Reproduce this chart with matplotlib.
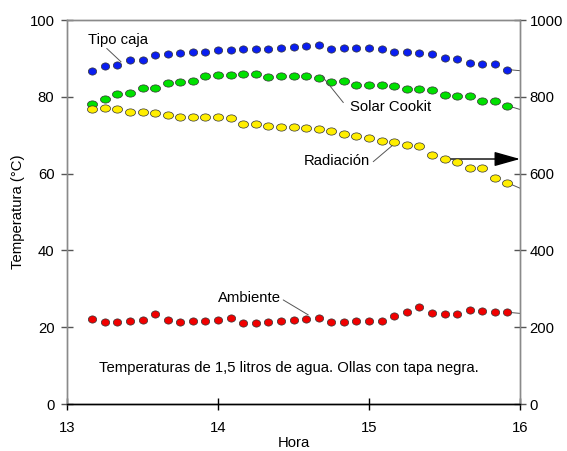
import matplotlib
matplotlib.use("Agg")
import matplotlib.pyplot as plt
from matplotlib.markers import MarkerStyle
from matplotlib.transforms import Affine2D

plt.rcParams['font.family'] = ['Liberation Sans', 'DejaVu Sans']
FS = 10.7
plt.rcParams['font.size'] = FS

# ---- data ----
horas = ["13:10", "13:15", "13:20", "13:25", "13:30", "13:35", "13:40", "13:45", "13:50", "13:55",
         "14:00", "14:05", "14:10", "14:15", "14:20", "14:25", "14:30", "14:35", "14:40", "14:45",
         "14:50", "14:55", "15:00", "15:05", "15:10", "15:15", "15:20", "15:25", "15:30", "15:35",
         "15:40", "15:45", "15:50", "15:55"]

tipo_caja = [86.6, 88.0, 88.2, 89.5, 89.7, 91.0, 91.1, 91.3, 91.6, 91.7,
             92.1, 92.3, 92.5, 92.5, 92.5, 92.8, 92.9, 93.1, 93.5, 92.4,
             92.6, 92.7, 92.7, 92.4, 91.7, 91.7, 91.3, 91.1, 90.0, 89.8,
             88.8, 88.6, 88.5, 87.1]

solar_cookit = [78.1, 79.5, 80.7, 81.1, 82.4, 82.4, 83.7, 83.9, 84.2, 85.3,
                85.6, 85.7, 85.9, 86.0, 85.2, 85.4, 85.4, 85.5, 84.8, 83.9,
                84.1, 83.2, 83.2, 83.2, 82.8, 82.0, 82.0, 81.7, 80.4, 80.3,
                80.2, 79.0, 78.8, 77.7]

radiacion = [768, 770, 767, 761, 761, 757, 753, 748, 748, 747,
             747, 744, 729, 728, 725, 721, 721, 718, 715, 710,
             704, 699, 693, 685, 681, 675, 673, 649, 639, 629,
             615, 614, 589, 576]

ambiente = [22.1, 21.3, 21.4, 21.6, 21.8, 23.4, 21.9, 21.4, 21.5, 21.7,
            21.9, 22.4, 21.1, 21.2, 21.4, 21.5, 21.8, 22.1, 22.5, 21.4,
            21.4, 21.7, 21.7, 21.7, 22.8, 24.0, 25.3, 23.6, 23.4, 23.4,
            24.4, 24.2, 24.0, 23.9]

# values at 16:00 (line only, at the axis edge)
hora_final = 16.0
final_tipo_caja = 86.8
final_solar_cookit = 76.7
final_radiacion = 562
final_ambiente = 23.6

x_ticks = [13, 14, 15, 16]
y_ticks = [0, 20, 40, 60, 80, 100]
y2_ticks = [0, 200, 400, 600, 800, 1000]

# ---- figure ----
def h2f(s):
    hh, mm = s.split(":")
    return int(hh) + int(mm) / 60.0

x = [h2f(h) for h in horas]

fig = plt.figure(figsize=(5.67, 4.51), dpi=100)
ax = fig.add_axes([67/567, 47/451, 453/567, 384/451])
ax2 = ax.twinx()

edge = '#333333'
m_round = MarkerStyle('o', transform=Affine2D().scale(1.15, 1.0))
m_oval = MarkerStyle('o', transform=Affine2D().scale(1.4, 1.0))

def serie(a, yv, yfin, color, marker):
    a.plot([x[-1], hora_final], [yv[-1], yfin], color='#555555', lw=0.7, clip_on=False, zorder=2)
    a.plot(x, yv, linestyle='none', marker=marker, markersize=5.2,
           markerfacecolor=color, markeredgecolor=edge, markeredgewidth=0.5, zorder=3)

serie(ax, tipo_caja, final_tipo_caja, '#0a1ef0', m_round)
serie(ax, solar_cookit, final_solar_cookit, '#00e000', m_oval)
serie(ax, ambiente, final_ambiente, '#f00000', m_round)
serie(ax2, radiacion, final_radiacion, '#ffee00', m_oval)

ax.set_xlim(13, 16)
ax.set_ylim(0, 100)
ax2.set_ylim(0, 1000)
ax.set_xticks(x_ticks)
ax.set_xticklabels([str(t) for t in x_ticks])
ax.set_yticks(y_ticks)
ax2.set_yticks(y2_ticks)

grey = '#8a8a8a'
for a in (ax, ax2):
    a.spines['top'].set_color(grey)
    a.spines['left'].set_color(grey)
    a.spines['right'].set_color(grey)
    a.spines['bottom'].set_color('black')
    for s in a.spines.values():
        s.set_linewidth(1.0)

ax.tick_params(axis='y', direction='inout', length=8, width=1, color='#555555', pad=5, labelsize=FS)
ax.tick_params(axis='x', direction='inout', length=8, width=1, color='black', pad=8, labelsize=FS)
ax2.tick_params(axis='y', direction='inout', length=8, width=1, color='#555555', pad=3, labelsize=FS)

ax.set_ylabel('Temperatura (°C)', fontsize=FS, labelpad=3)
ax.set_xlabel('Hora', fontsize=FS, labelpad=1)

line_kw = dict(arrowstyle='-', color='#555555', lw=0.7, shrinkA=0, shrinkB=0)
ax.annotate('', xy=(13.358, 89.1), xytext=(13.263, 92.6), arrowprops=line_kw)
ax.text(13.137, 94.8, 'Tipo caja', ha='left', va='center', fontsize=FS)

ax.annotate('', xy=(14.693, 85.2), xytext=(14.830, 78.5), arrowprops=line_kw)
ax.text(14.874, 77.4, 'Solar Cookit', ha='left', va='center', fontsize=FS)

ax.annotate('', xy=(15.166, 67.7), xytext=(15.028, 63.1), arrowprops=line_kw)
ax.text(14.565, 63.3, 'Radiación', ha='left', va='center', fontsize=FS)

ax.annotate('', xy=(14.598, 23.2), xytext=(14.432, 27.1), arrowprops=line_kw)
ax.text(13.998, 27.5, 'Ambiente', ha='left', va='center', fontsize=FS)

ax.annotate('', xy=(16.0, 63.8), xytext=(15.503, 63.8),
            arrowprops=dict(arrowstyle='-|>,head_length=1.6,head_width=0.45',
                            mutation_scale=10, color='black', lw=1.0,
                            shrinkA=0, shrinkB=0), annotation_clip=False, zorder=5)

ax.text(14.468, 9.45, 'Temperaturas de 1,5 litros de agua. Ollas con tapa negra.',
        ha='center', va='center', fontsize=FS)

fig.savefig('out.png', dpi=100)
